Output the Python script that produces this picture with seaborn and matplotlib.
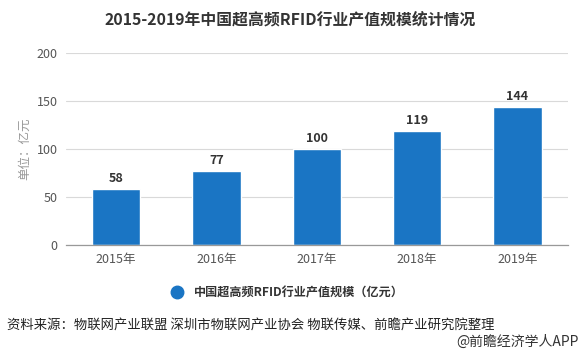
import matplotlib
matplotlib.use('Agg')
import matplotlib.pyplot as plt
from matplotlib.lines import Line2D
import seaborn as sns
import pandas as pd

years = ['2015年', '2016年', '2017年', '2018年', '2019年']
values = [58, 77, 100, 119, 144]
series_name = '中国超高频RFID行业产值规模（亿元）'

sns.set_style('white')
plt.rcParams['font.family'] = ['Noto Sans CJK SC', 'DejaVu Sans']

bar_color = '#1a75c4'
df = pd.DataFrame({'year': years, 'value': values})

fig = plt.figure(figsize=(5.8, 3.57), dpi=100)
ax = fig.add_axes([0.1138, 0.3137, 0.865, 0.5378])
sns.barplot(data=df, x='year', y='value', color=bar_color, width=0.48,
            saturation=1, ax=ax)

ax.set_ylim(0, 200)
ax.set_yticks([0, 50, 100, 150, 200])
ax.set_xlim(-0.5, 4.5)
ax.yaxis.grid(True, color='#d9d9d9', linewidth=0.8)
ax.set_axisbelow(True)
for s in ['top', 'right', 'left']:
    ax.spines[s].set_visible(False)
ax.spines['bottom'].set_color('#999999')
ax.spines['bottom'].set_linewidth(0.9)
ax.tick_params(axis='y', length=0, labelsize=9, labelcolor='#555555', pad=6)
ax.tick_params(axis='x', length=4, color='#999999', labelsize=9,
               labelcolor='#555555', pad=2)
ax.set_xlabel('')
ax.set_ylabel('单位：亿元', fontsize=9, color='#999999', labelpad=4)

for i, v in enumerate(values):
    ax.text(i, v + 4, str(v), ha='center', va='bottom', fontsize=9,
            fontweight='bold', color='#333333')

fig.text(0.5, 0.945, '2015-2019年中国超高频RFID行业产值规模统计情况',
         ha='center', va='center', fontsize=11.4, fontweight='bold',
         color='#333333')

handle = Line2D([], [], marker='o', linestyle='', markersize=9,
                markerfacecolor=bar_color, markeredgecolor=bar_color)
fig.legend([handle], [series_name], loc='center', bbox_to_anchor=(0.49, 0.18),
           frameon=False, prop={'size': 8.7, 'weight': 'bold'},
           handletextpad=0.4, labelcolor='#333333')

fig.text(0.012, 0.088, '资料来源：物联网产业联盟 深圳市物联网产业协会 物联传媒、前瞻产业研究院整理',
         ha='left', va='center', fontsize=9.6, color='#222222')
fig.text(0.997, 0.043, '@前瞻经济学人APP', ha='right', va='center',
         fontsize=10, color='#333333')

fig.savefig('out.png', dpi=100)
